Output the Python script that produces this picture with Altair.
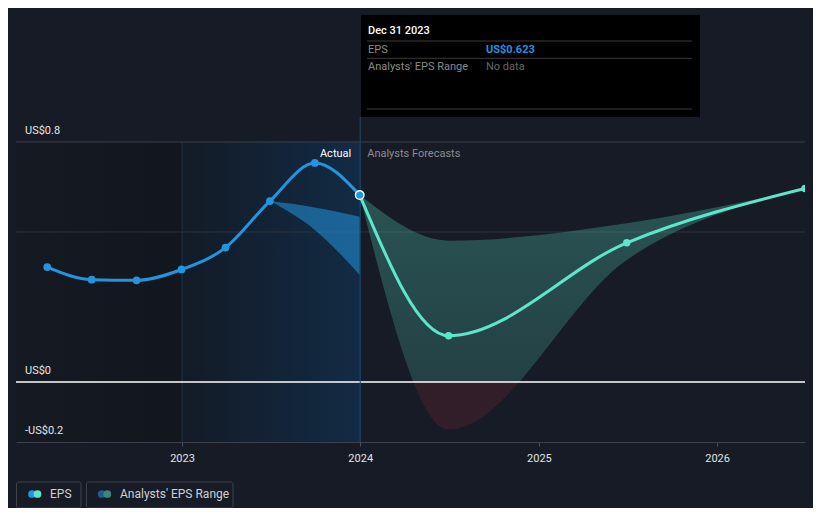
import altair as alt
import pandas as pd

# ---- data ----
actual_dates = ["2022-03-31", "2022-06-30", "2022-09-30", "2022-12-31",
                "2023-03-31", "2023-06-30", "2023-09-30", "2023-12-31"]
actual_eps = [0.383, 0.341, 0.339, 0.375, 0.448, 0.603, 0.730, 0.623]

fc_dates = ["2023-12-31", "2024-06-30", "2025-06-30", "2026-06-30"]
fc_eps = [0.623, 0.154, 0.464, 0.645]
fc_low = [0.623, -0.158, 0.407, 0.645]
fc_high = [0.623, 0.471, 0.529, 0.645]

past_range_dates = ["2023-06-30", "2023-09-30", "2023-12-31"]
past_low = [0.603, 0.507, 0.357]
past_high = [0.603, 0.582, 0.551]

y_ticks = [0.8, 0.0, -0.2]
y_tick_labels = ["US$0.8", "US$0", "-US$0.2"]
grid_values = [0.8, 0.5]
x_years = [2023, 2024, 2025, 2026]

X_DOMAIN = ["2022-01-26", "2026-06-30"]
Y_DOMAIN = [-0.2, 1.2233]

FONT = "Roboto"
BG = "#161b25"
BLUE = "#2394df"
TEAL = "#5ee6cc"

actual_df = pd.DataFrame({"date": actual_dates, "eps": actual_eps})
fc_df = pd.DataFrame({"date": fc_dates, "eps": fc_eps, "lo": fc_low, "hi": fc_high})
past_df = pd.DataFrame({"date": past_range_dates, "lo": past_low, "hi": past_high})
one = pd.DataFrame({"a": [0]})

xs = alt.Scale(domain=X_DOMAIN)
ys = alt.Scale(domain=Y_DOMAIN, nice=False, zero=False)

AX = alt.Axis(values=[alt.DateTime(year=y, month=1, date=1) for y in x_years],
              format="%Y", title=None, grid=False,
              domainColor="#3c414b", domainWidth=1,
              tickColor="#4a4f58", tickSize=4, tickWidth=1,
              labelColor="#e2e2e2", labelFont=FONT, labelFontSize=11,
              labelPadding=6)

def X(field="date"):
    return alt.X(f"{field}:T", scale=xs, axis=AX, title=None)

def XD(year):
    return alt.X(datum=alt.DateTime(year=year, month=1, date=1), type="temporal",
                 scale=xs, axis=AX, title=None)

def Y(field):
    return alt.Y(f"{field}:Q", scale=ys, axis=None)

# background regions
regions = pd.DataFrame({
    "start": [X_DOMAIN[0], "2023-01-01"],
    "end": ["2023-01-01", "2024-01-01"],
    "top": [0.8, 0.8],
    "bottom": [-0.2, -0.2],
    "name": ["a", "b"],
})
reg_a = alt.Chart(regions[regions.name == "a"]).mark_rect(
    color=alt.Gradient(gradient="linear", x1=0, x2=1, y1=0, y2=0,
                       stops=[alt.GradientStop(color="#151a22", offset=0),
                              alt.GradientStop(color="#12161d", offset=1)])
).encode(x=X("start"), x2="end:T", y=Y("top"), y2="bottom:Q")
reg_b = alt.Chart(regions[regions.name == "b"]).mark_rect(
    color=alt.Gradient(gradient="linear", x1=0, x2=1, y1=0, y2=0,
                       stops=[alt.GradientStop(color="#131b27", offset=0),
                              alt.GradientStop(color="#122b44", offset=1)])
).encode(x=X("start"), x2="end:T", y=Y("top"), y2="bottom:Q")

rule_2023 = alt.Chart(one).mark_rule(color="#163450", strokeWidth=1).encode(
    x=XD(2023),
    y=alt.Y(datum=0.8, type="quantitative", scale=ys, axis=None),
    y2=alt.Y2(datum=-0.2),
)

grid_df = pd.DataFrame({"v": grid_values, "c": ["#3c414b", "#2f343d"]})
grid = alt.Chart(grid_df).mark_rule(strokeWidth=1).encode(
    y=Y("v"), color=alt.Color("c:N", scale=None))

zero = alt.Chart(pd.DataFrame({"v": [0.0]})).mark_rule(color="#ffffff", strokeWidth=1.3).encode(y=Y("v"))

past_band = alt.Chart(past_df).mark_area(interpolate="monotone", color=BLUE, opacity=0.55).encode(
    x=X(), y=Y("lo"), y2="hi:Q")

teal_band = alt.Chart(fc_df).mark_area(
    interpolate="monotone", clip=True,
    color=alt.Gradient(gradient="linear", x1=0, x2=0, y1=0, y2=1,
                       stops=[alt.GradientStop(color="rgba(94,230,204,0.28)", offset=0),
                              alt.GradientStop(color="rgba(94,230,204,0.19)", offset=0.803),
                              alt.GradientStop(color="rgba(210,50,60,0.15)", offset=0.804),
                              alt.GradientStop(color="rgba(210,50,60,0.15)", offset=1)])
).encode(x=X(), y=Y("lo"), y2="hi:Q")

rule_2024 = alt.Chart(one).mark_rule(color="#1c4c74", strokeWidth=1).encode(
    x=XD(2024), y=alt.value(102), y2=alt.value(427))

actual_line = alt.Chart(actual_df).mark_line(interpolate="monotone", color=BLUE, strokeWidth=3).encode(
    x=X(), y=Y("eps"))
actual_pts = alt.Chart(actual_df.iloc[:-1]).mark_circle(color=BLUE, size=60, opacity=1).encode(
    x=X(), y=Y("eps"))

fc_line = alt.Chart(fc_df).mark_line(interpolate="monotone", color=TEAL, strokeWidth=3, clip=True).encode(
    x=X(), y=Y("eps"))
fc_pts = alt.Chart(fc_df.iloc[1:]).mark_circle(color=TEAL, size=55, opacity=1, clip=True).encode(
    x=X(), y=Y("eps"))

hl = alt.Chart(actual_df.iloc[-1:]).mark_point(filled=True, fill=BLUE, stroke="#ffffff",
                                                strokeWidth=1.3, size=75, opacity=1).encode(
    x=X(), y=Y("eps"))

# labels
ylab_df = pd.DataFrame({"v": y_ticks, "t": y_tick_labels})
ylabels = alt.Chart(ylab_df).mark_text(align="left", baseline="middle", dy=-11, font=FONT,
                                       fontSize=11, color="#e6e6e6").encode(
    x=alt.value(9), y=Y("v"), text="t:N")

act_txt = alt.Chart(one).mark_text(align="right", baseline="middle", dx=-9, font=FONT,
                                   fontSize=11, color="#ffffff").encode(
    x=XD(2024),
    y=alt.Y(datum=0.76, type="quantitative", scale=ys, axis=None), text=alt.value("Actual"))
fc_txt = alt.Chart(one).mark_text(align="left", baseline="middle", dx=7, font=FONT,
                                  fontSize=11, color="#8a8d93").encode(
    x=XD(2024),
    y=alt.Y(datum=0.76, type="quantitative", scale=ys, axis=None), text=alt.value("Analysts Forecasts"))

# tooltip box
tip_box = alt.Chart(one).mark_rect(color="#000000").encode(
    x=alt.value(345), x2=alt.value(684), y=alt.value(0), y2=alt.value(102))
tip_lines_df = pd.DataFrame({"yy": [26, 43.3, 94]})
tip_lines = alt.Chart(tip_lines_df).mark_rule(color="#3a3a3a", strokeWidth=1).encode(
    x=alt.value(351), x2=alt.value(676), y=alt.Y("yy:Q", scale=None))

def txt(s, x, y, color, weight="normal", size=11):
    return alt.Chart(one).mark_text(align="left", baseline="middle", font=FONT, fontSize=size,
                                    fontWeight=weight, color=color).encode(
        x=alt.value(x), y=alt.value(y), text=alt.value(s))

tip_texts = [
    txt("Dec 31 2023", 352, 16, "#ffffff", 500),
    txt("EPS", 352, 34.5, "#8a8a8a"),
    txt("US$0.623", 470, 34.5, BLUE, "bold"),
    txt("Analysts' EPS Range", 352, 52, "#8a8a8a"),
    txt("No data", 470, 52, "#666666"),
]

# legend
leg_boxes_df = pd.DataFrame({"x0": [0.5, 70.5], "x1": [65, 217]})
leg_boxes = alt.Chart(leg_boxes_df).mark_rect(fill=BG, stroke="#3d424c", strokeWidth=1,
                                               cornerRadius=2).encode(
    x=alt.X("x0:Q", scale=None), x2="x1:Q", y=alt.value(467), y2=alt.value(493))
leg_dots_df = pd.DataFrame({"xx": [16, 21.5, 85.7, 91.3],
                            "c": [BLUE, TEAL, "#1f5c8a", "#3d8580"]})
leg_dots = alt.Chart(leg_dots_df).mark_circle(size=60, opacity=1).encode(
    x=alt.X("xx:Q", scale=None), y=alt.value(479), color=alt.Color("c:N", scale=None))
leg_texts = [
    txt("EPS", 34, 479, "#d0d0d0", size=12),
    txt("Analysts' EPS Range", 104, 479, "#d0d0d0", size=12),
]

chart = alt.layer(
    reg_a, reg_b, rule_2023, grid, past_band, teal_band, zero, rule_2024,
    actual_line, actual_pts, fc_line, fc_pts, hl, ylabels, act_txt, fc_txt,
    tip_box, tip_lines, *tip_texts, leg_boxes, leg_dots, *leg_texts
).properties(
    width=789, height=427,
    background=BG,
    padding={"left": 8, "top": 7, "right": 8, "bottom": 66},
    autosize=alt.AutoSizeParams(type="none"),
).configure_view(strokeWidth=0)

chart.save("out.html", embed_options={"renderer": "svg", "actions": False})
